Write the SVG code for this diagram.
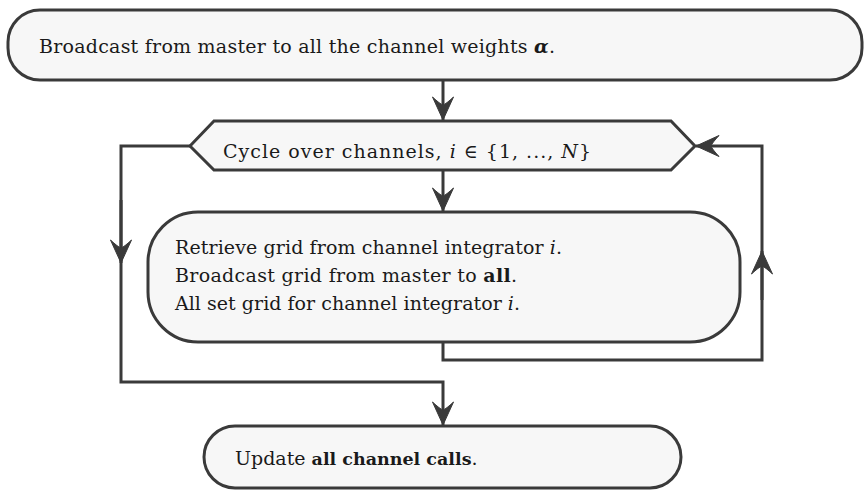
<svg xmlns="http://www.w3.org/2000/svg" width="864" height="495" viewBox="0 0 864 495" font-family="'DejaVu Serif', serif" font-size="19">
  <style>
    .node { fill: #f7f7f7; stroke: #3a3a3a; stroke-width: 3; }
    .edge { fill: none; stroke: #3a3a3a; stroke-width: 3; }
    .lbl { fill: #1a1a1a; }
    .it { font-style: italic; }
    .b { font-weight: bold; }
  </style>
  <defs>
    <!-- barbed arrowhead shared by all connectors -->
    <marker id="head" markerUnits="userSpaceOnUse" markerWidth="30" markerHeight="26" viewBox="-26 -13 30 26" refX="0" refY="0" orient="auto">
      <path d="M0,0 L-23,-10.5 Q-16,-3 -15,0 Q-16,3 -23,10.5 Z" fill="#3a3a3a" stroke="#3a3a3a" stroke-width="1"/>
    </marker>
  </defs>

  <g id="connectors">
    <path class="edge" d="M443,80 V120" marker-end="url(#head)"/>
    <path class="edge" d="M443,171 V211" marker-end="url(#head)"/>
    <path class="edge" d="M190,146 H121 V382 H443 V425" marker-end="url(#head)"/>
    <path class="edge" d="M121,200 V263" marker-end="url(#head)"/>
    <path class="edge" d="M443,342 V360 H762 V146 H696" marker-end="url(#head)"/>
    <path class="edge" d="M762,300 V251" marker-end="url(#head)"/>
  </g>

  <g id="broadcast-weights">
    <rect class="node" x="8" y="10" width="854" height="70" rx="32" ry="32"/>
    <text class="lbl" x="39" y="53" textLength="516" lengthAdjust="spacing">Broadcast from master to all the channel weights <tspan class="b it">α</tspan>.</text>
  </g>

  <g id="cycle-channels">
    <polygon class="node" points="190,146 214,121 671,121 695,146 671,170 214,170"/>
    <text class="lbl" x="223" y="158" textLength="368" lengthAdjust="spacing">Cycle over channels, <tspan class="it">i</tspan> ∈ {1, ..., <tspan class="it">N</tspan>}</text>
  </g>

  <g id="grid-exchange">
    <rect class="node" x="148" y="212" width="592" height="130" rx="50" ry="50"/>
    <text class="lbl" x="175" y="254" textLength="387" lengthAdjust="spacing">Retrieve grid from channel integrator <tspan class="it">i</tspan>.</text>
    <text class="lbl" x="175" y="282" textLength="342" lengthAdjust="spacing">Broadcast grid from master to <tspan class="b">all</tspan>.</text>
    <text class="lbl" x="175" y="310" textLength="345" lengthAdjust="spacing">All set grid for channel integrator <tspan class="it">i</tspan>.</text>
  </g>

  <g id="update-calls">
    <rect class="node" x="204" y="426" width="477" height="62" rx="31" ry="31"/>
    <text class="lbl" x="235" y="465">Update <tspan class="b" font-size="17.5">all channel calls</tspan>.</text>
  </g>
</svg>
